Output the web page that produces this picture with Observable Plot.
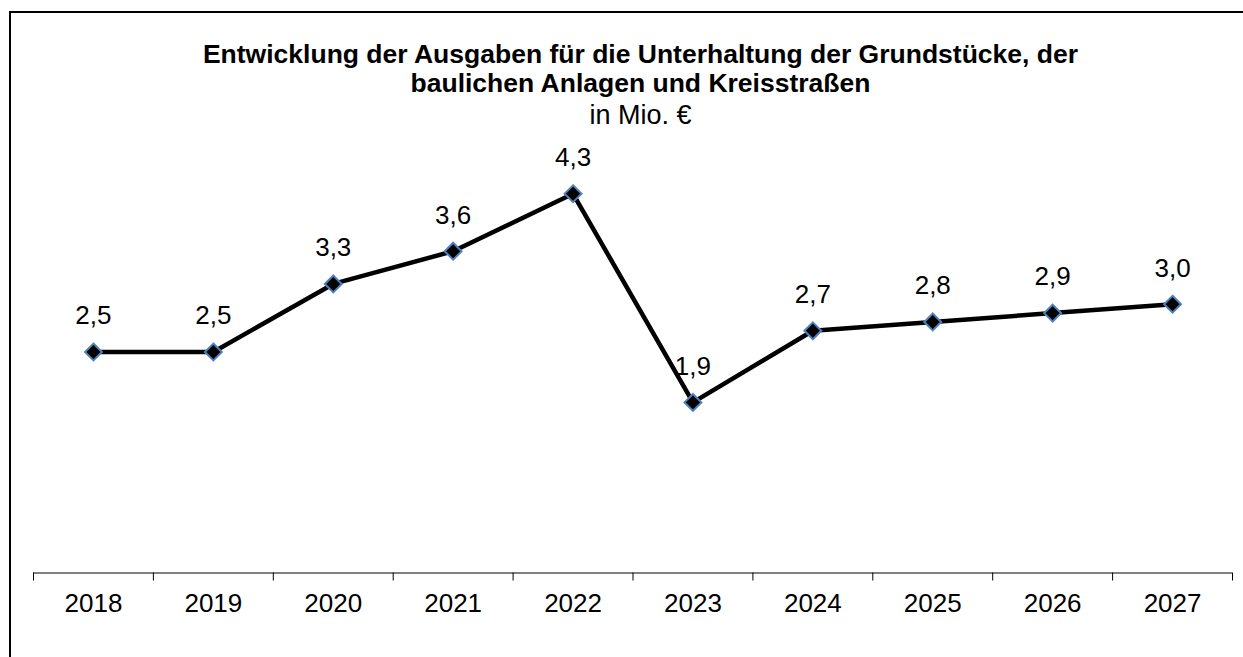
<!DOCTYPE html>
<html>
<head>
<meta charset="utf-8">
<script src="https://cdn.jsdelivr.net/npm/d3@7"></script>
<script src="https://cdn.jsdelivr.net/npm/@observablehq/plot@0.6"></script>
<style>
  html, body { margin: 0; padding: 0; background: #fff; overflow: hidden; width: 1243px; height: 657px; }
  body { font-family: "Liberation Sans", Arial, sans-serif; position: relative; }
  #frameLeft { position: absolute; left: 9px; top: 11px; width: 2px; height: 646px; background: #000; }
  #frameTop { position: absolute; left: 9px; top: 11px; width: 1234px; height: 2px; background: #000; }
  #header { height: 130px; box-sizing: border-box; padding-top: 40px; padding-left: 38px; text-align: center; color: #000; white-space: nowrap; }
  #title { font-weight: bold; font-size: 26.5px; line-height: 29px; }
  #subtitle { font-size: 27px; line-height: 29px; margin-top: 3px; }
  #chart svg { display: block; }
</style>
</head>
<body>
<div id="frameLeft"></div>
<div id="frameTop"></div>
<div id="header">
  <div id="title">Entwicklung der Ausgaben für die Unterhaltung der Grundstücke, der<br>baulichen Anlagen und Kreisstraßen</div>
  <div id="subtitle">in Mio. €</div>
</div>
<div id="chart"></div>
<script>
const years = [2018, 2019, 2020, 2021, 2022, 2023, 2024, 2025, 2026, 2027];
const values = [2.50, 2.50, 3.27, 3.64, 4.29, 1.93, 2.74, 2.84, 2.94, 3.04];

const data = years.map((year, i) => ({year, value: values[i]}));
const boundaries = [...years.map(y => y - 0.5), years[years.length - 1] + 0.5];
const fmt = v => v.toFixed(1).replace(".", ",");

const chart = Plot.plot({
  width: 1243,
  height: 527,
  marginLeft: 33,
  marginRight: 11,
  marginTop: 0.5,
  marginBottom: 84.5,
  style: {fontFamily: '"Liberation Sans", Arial, sans-serif', color: "#000", background: "transparent"},
  x: {domain: [years[0] - 0.5, years[years.length - 1] + 0.5], ticks: boundaries, tickSize: 8, tickFormat: () => "", label: null},
  y: {domain: [0, 5], axis: null},
  marks: [
    Plot.ruleY([0], {stroke: "#000", strokeWidth: 1}),
    Plot.text(years, {x: d => d, y: 0, dy: 31, text: d => String(d), fontSize: 26, fill: "#000"}),
    Plot.line(data, {x: "year", y: "value", stroke: "#000", strokeWidth: 4.5}),
    Plot.dot(data, {x: "year", y: "value", symbol: "diamond2", r: 7.6, fill: "#000", stroke: "#4f81bd", strokeWidth: 2}),
    Plot.text(data, {x: "year", y: "value", text: d => fmt(d.value), dy: -36, fontSize: 26, fill: "#000"})
  ]
});
document.getElementById("chart").appendChild(chart);
</script>
</body>
</html>
